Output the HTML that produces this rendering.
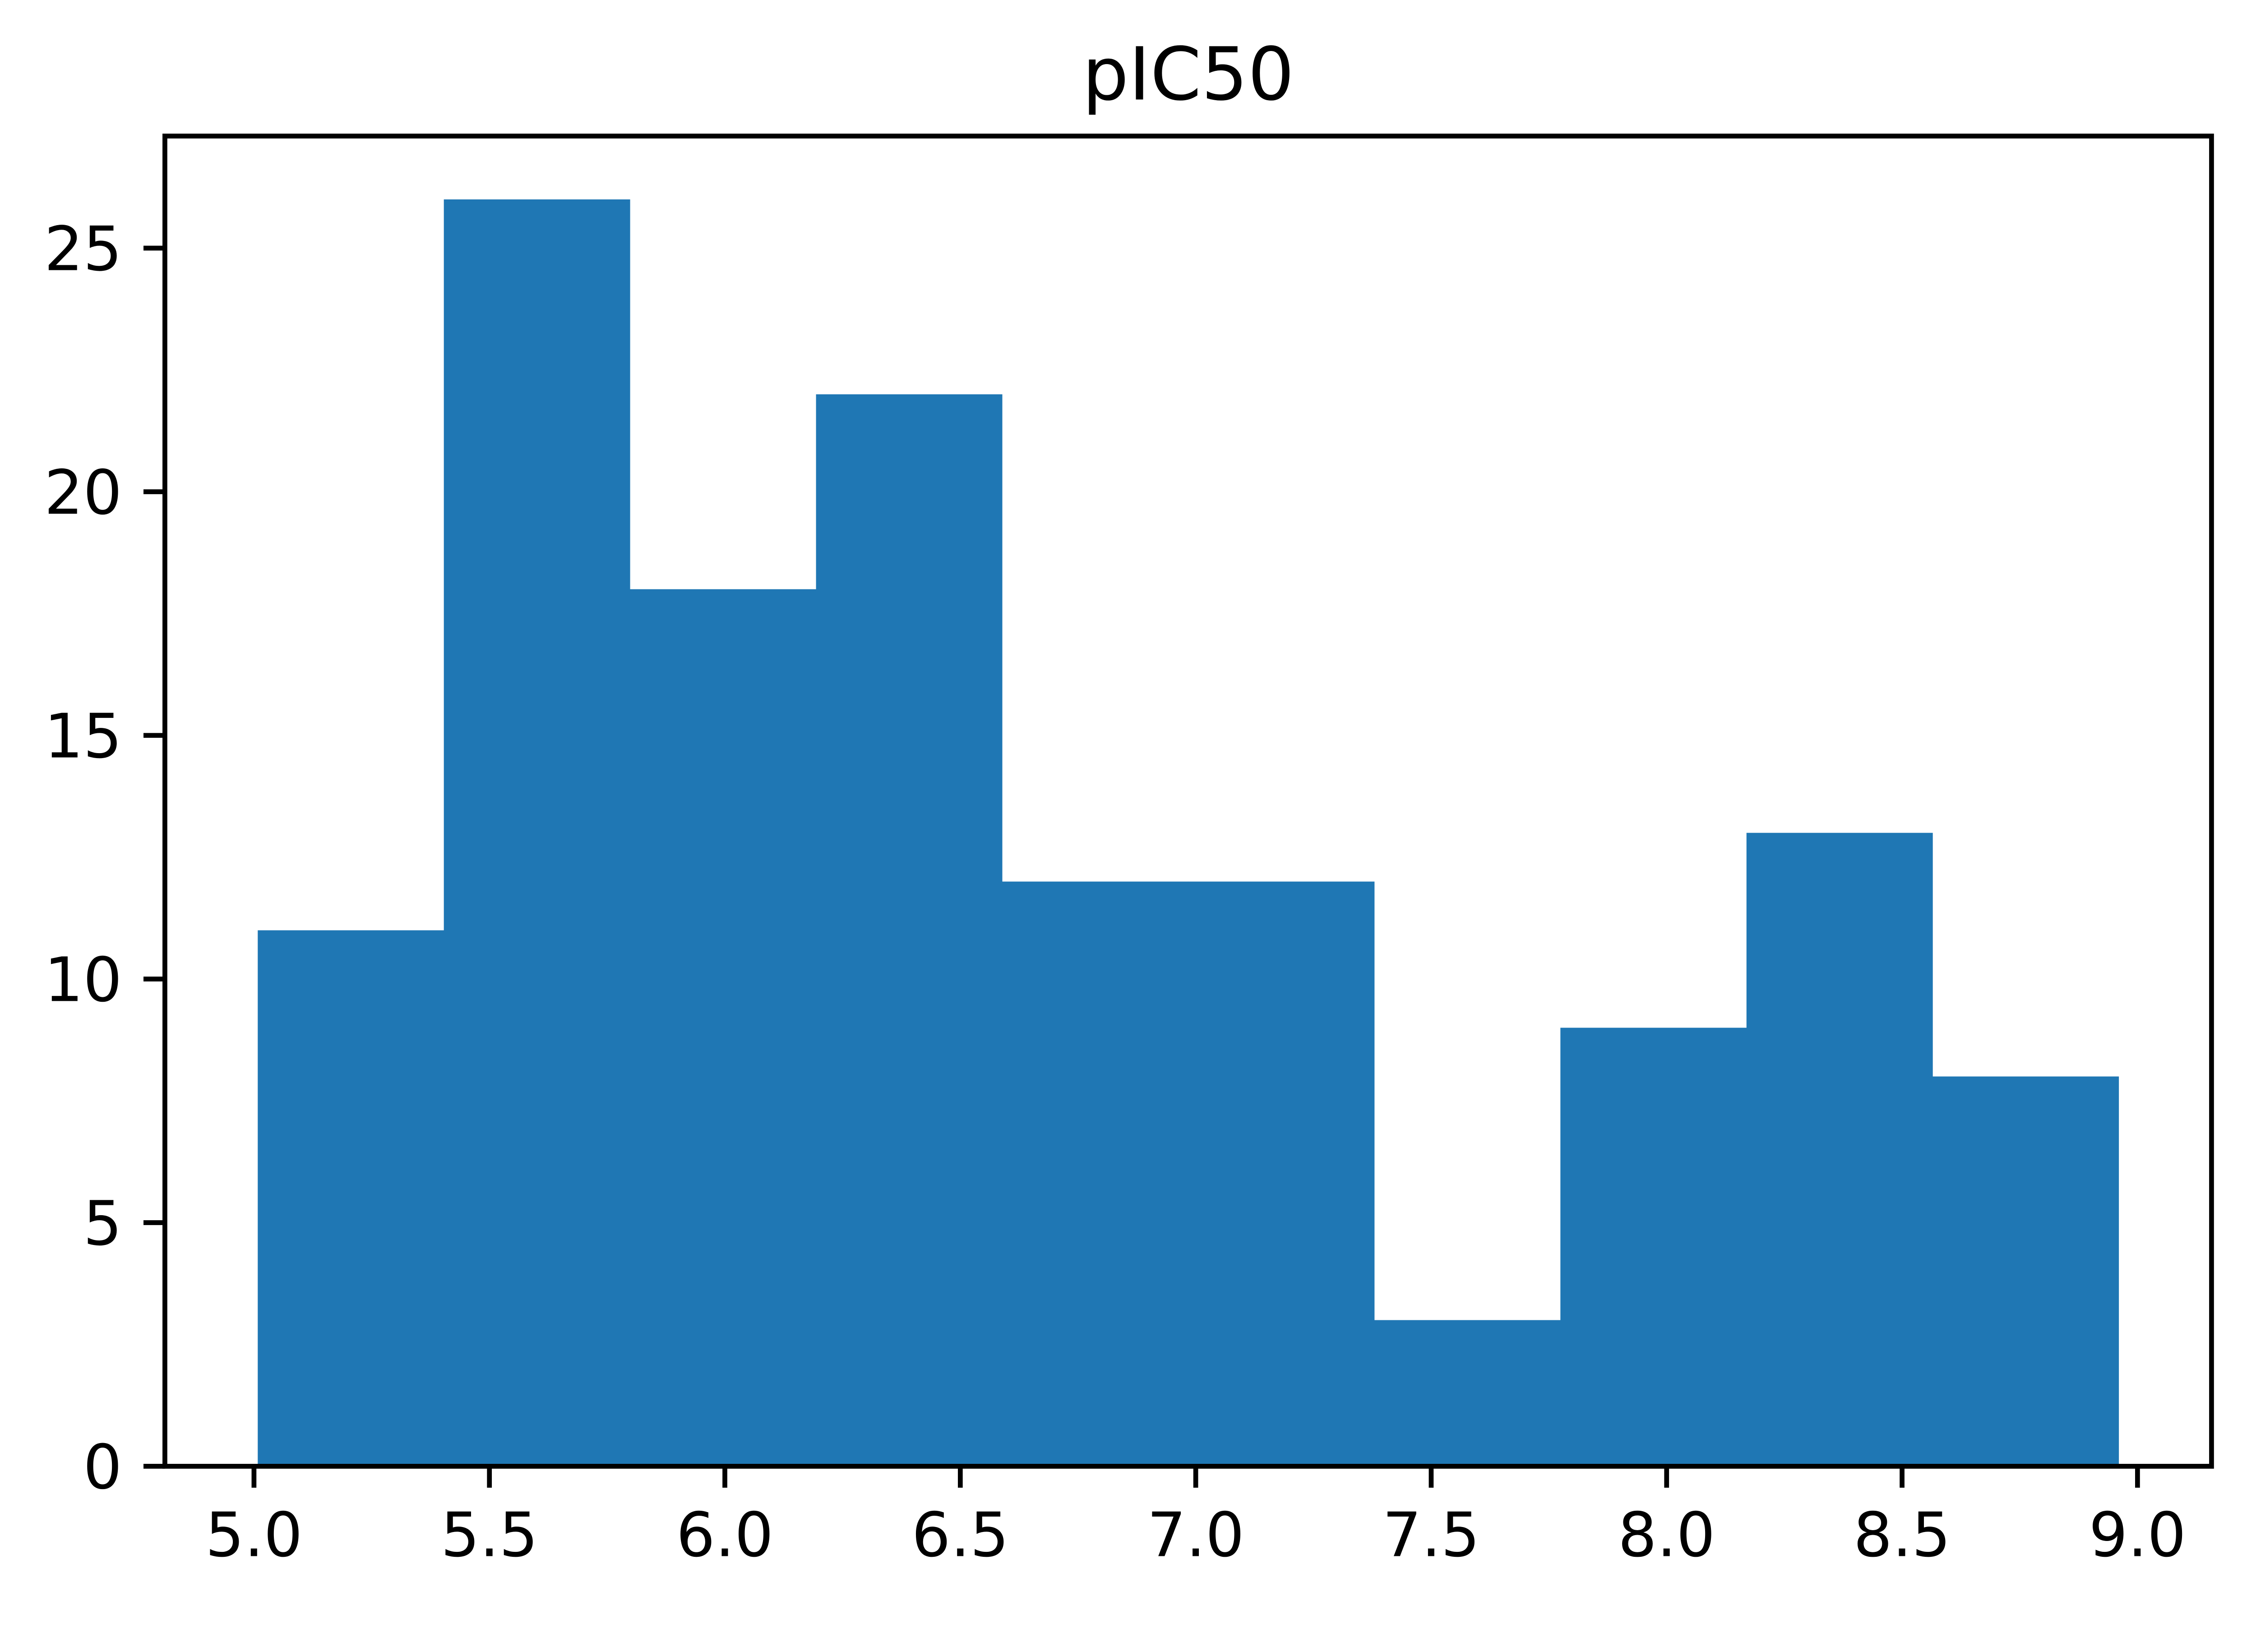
<!DOCTYPE html>
<html><head><meta charset="utf-8"><style>
html,body{margin:0;padding:0;background:#fff;overflow:hidden;}
svg{display:block;position:absolute;left:0;top:0;width:100vw;height:calc(100vw * 3661 / 5124);}
text{font-family:"DejaVu Sans","Liberation Sans",sans-serif;fill:#000;}
</style></head><body>
<svg id="chart" viewBox="0 0 5124 3661" preserveAspectRatio="none" xmlns="http://www.w3.org/2000/svg">
<rect x="0" y="0" width="5124" height="3661" fill="#fff"/>
<g id="bars"></g>
<g id="xticks"></g>
<g id="yticks"></g>
<rect x="374.5" y="309" width="4648.5" height="3021" fill="none" stroke="#000" stroke-width="11"/>
<text x="2699" y="226" font-size="166" text-anchor="middle">pIC50</text>
</svg>
<script>
const binStart = 5.008;
const binEnd = 8.96;
const counts = [11, 26, 18, 22, 12, 12, 3, 9, 13, 8];
const xTicks = ["5.0","5.5","6.0","6.5","7.0","7.5","8.0","8.5","9.0"];
const yTicks = ["0","5","10","15","20","25"];

const NS = "http://www.w3.org/2000/svg";
const X0 = 374.5, X1 = 5023, Y0 = 3330, Y1 = 309;
const xMin = 4.8108, xMax = 9.1572, yMin = 0, yMax = 27.3;
function sx(v){ return X0 + (v - xMin) / (xMax - xMin) * (X1 - X0); }
function sy(v){ return Y0 - (v - yMin) / (yMax - yMin) * (Y0 - Y1); }

const bars = document.getElementById('bars');
const w = (binEnd - binStart) / counts.length;
counts.forEach((c, i) => {
  const r = document.createElementNS(NS, 'rect');
  const a = sx(binStart + i * w), b = sx(binStart + (i + 1) * w);
  r.setAttribute('x', a);
  r.setAttribute('y', sy(c));
  r.setAttribute('width', b - a + 0.5);
  r.setAttribute('height', sy(0) - sy(c));
  r.setAttribute('fill', '#1f77b4');
  
  
  bars.appendChild(r);
});

const xg = document.getElementById('xticks');
xTicks.forEach(t => {
  const x = sx(parseFloat(t));
  const l = document.createElementNS(NS, 'line');
  l.setAttribute('x1', x); l.setAttribute('x2', x);
  l.setAttribute('y1', Y0); l.setAttribute('y2', Y0 + 48.6);
  l.setAttribute('stroke', '#000'); l.setAttribute('stroke-width', '11');
  
  
  xg.appendChild(l);
  const tx = document.createElementNS(NS, 'text');
  tx.setAttribute('x', x); tx.setAttribute('y', 3534);
  tx.setAttribute('font-size', '139'); tx.setAttribute('text-anchor', 'middle');
  tx.textContent = t;
  
  
  xg.appendChild(tx);
});

const yg = document.getElementById('yticks');
yTicks.forEach(t => {
  const y = sy(parseFloat(t));
  const l = document.createElementNS(NS, 'line');
  l.setAttribute('x1', X0); l.setAttribute('x2', X0 - 48.6);
  l.setAttribute('y1', y); l.setAttribute('y2', y);
  l.setAttribute('stroke', '#000'); l.setAttribute('stroke-width', '11');
  
  
  yg.appendChild(l);
  const tx = document.createElementNS(NS, 'text');
  tx.setAttribute('x', X0 - 48.6 - 48.6); tx.setAttribute('y', y + 50);
  tx.setAttribute('font-size', '139'); tx.setAttribute('text-anchor', 'end');
  tx.textContent = t;
  
  
  yg.appendChild(tx);
});
</script>
</body></html>
